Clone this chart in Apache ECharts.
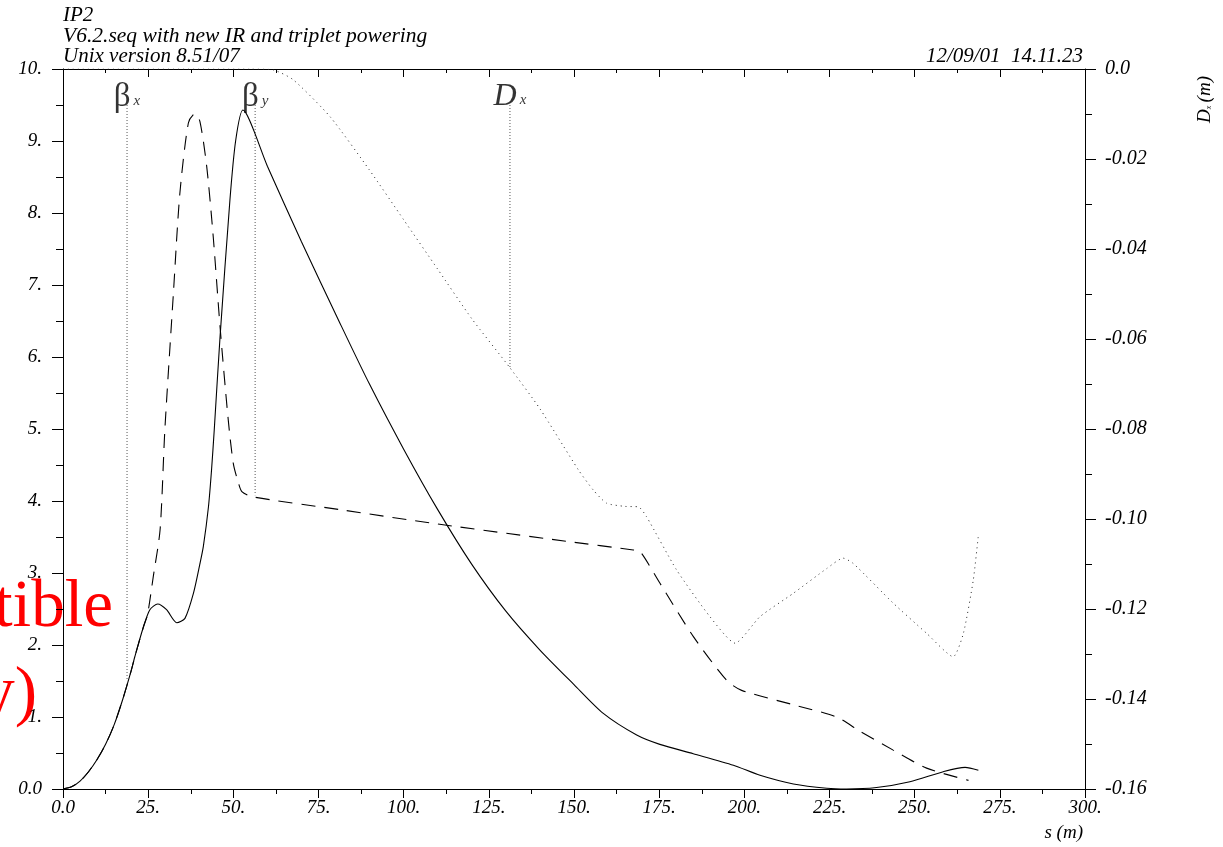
<!DOCTYPE html>
<html>
<head>
<meta charset="utf-8">
<script src="https://cdn.jsdelivr.net/npm/echarts@6/dist/echarts.min.js"></script>
<style>
html,body{margin:0;padding:0;background:#fff;}
#chart{width:1223px;height:847px;}
</style>
</head>
<body>
<div id="chart"></div>
<script>
// ---- data ----
const betaXS = [0,2.5,5,7.5,10,12.5,15,17.5,20,21.1,23.6,25.5,27.8,30.4,33.4,35.8,38.3,40.2,41.2,42.7,43.6,44.4,46.1,49.0,50.7,52.8,60,70,81.3,90,100,110,120,130,140,150,158.6,168.4,175.2,185,196.8,204.6,214.4,224.2,230,238.8,248.6,258.4,264.8,268.7];
const betaX  = [0,0.03,0.11,0.24,0.41,0.62,0.89,1.24,1.64,1.84,2.25,2.49,2.57,2.49,2.31,2.37,2.72,3.13,3.37,3.92,4.43,4.99,6.28,8.18,9.01,9.43,8.65,7.6,6.47,5.62,4.72,3.88,3.12,2.47,1.93,1.45,1.05,0.75,0.62,0.49,0.33,0.19,0.07,0.01,0.0,0.02,0.10,0.24,0.30,0.26];

const betaYS = [0,2.5,5,7.5,10,12.5,15,17.5,20,21.1,23.6,24.8,26.5,28.5,29.9,32.4,34.3,36.8,38.7,40.2,42.2,44.1,46.1,48.5,50.0,51.5,52.5,55.4,81.3,110,147.9,167.4,169.4,175.2,185,194.8,199.2,214.4,227.1,234,243.7,253.5,265.8];
const betaY  = [0,0.03,0.11,0.24,0.41,0.62,0.89,1.24,1.64,1.84,2.25,2.42,2.95,3.6,4.99,6.88,8.27,9.25,9.38,9.27,8.64,7.67,6.42,5.13,4.52,4.25,4.13,4.06,3.88,3.68,3.44,3.32,3.30,2.86,2.12,1.51,1.37,1.17,1.0,0.80,0.54,0.29,0.12];

const dispS = [0,55,61.7,67.6,78.4,90,100,110,120,131.2,140,151.3,155.7,159.6,165,168.9,171.3,180.1,189.9,197.3,204.6,214.4,224.2,229,232,243.7,253.5,261.3,264.3,267.2,268.7];
const dispX = [0,0,-0.0002,-0.0024,-0.0106,-0.0225,-0.0335,-0.0445,-0.0555,-0.0664,-0.0755,-0.0891,-0.0936,-0.0965,-0.0972,-0.0973,-0.0995,-0.1113,-0.1217,-0.1276,-0.1217,-0.1165,-0.111,-0.1087,-0.1099,-0.1187,-0.1254,-0.1306,-0.1254,-0.1136,-0.1036];

// curve-name markers: s position, top and bottom (in beta units)
const markerNames = ['βx', 'βy', 'Dx'];
const markerS     = [18.8, 56.4, 131.2];
const markerTop   = [9.5, 9.5, 9.5];
const markerBot   = [1.51, 4.08, 5.85];

const titleLines = ['IP2', 'V6.2.seq with new IR and triplet powering', 'Unix version 8.51/07'];
const dateText = '12/09/01  14.11.23';
const overlayLines = ['tible', 'y)'];

const FONT = 'Liberation Serif';
const zip = (a, b) => a.map((v, i) => [v, b[i]]);

const labelRich = {
  b: {fontFamily: FONT, fontSize: 33, color: '#000', verticalAlign: 'bottom'},
  d: {fontFamily: FONT, fontSize: 32, fontStyle: 'italic', color: '#000', verticalAlign: 'bottom'},
  s: {fontFamily: FONT, fontSize: 15, fontStyle: 'italic', color: '#000', verticalAlign: 'bottom', padding: [0, 0, 5, 3]}
};
function markerLabel(name) {
  const head = name.charAt(0), sub = name.slice(1);
  return (head === 'β' ? '{b|' : '{d|') + head + '}{s|' + sub + '}';
}

const markerSeries = markerNames.map((n, i) => ({
  type: 'line',
  xAxisIndex: 0, yAxisIndex: 0,
  symbol: 'none',
  silent: true,
  z: 1,
  lineStyle: {color: '#555', width: 1, type: [1, 2]},
  data: [[markerS[i], markerTop[i]], [markerS[i], markerBot[i]]]
}));
const markerLabels = {
  type: 'scatter', xAxisIndex: 0, yAxisIndex: 0, symbolSize: 0, silent: true, z: 4,
  data: markerNames.map((n, i) => ({value: [markerS[i], markerTop[i]], name: n})),
  label: {show: true, position: 'inside', offset: [0, -8], formatter: p => markerLabel(p.name), rich: labelRich}
};

const axisLabelStyle = {fontFamily: FONT, fontStyle: 'italic', fontSize: 19, color: '#000'};

const chart = echarts.init(document.getElementById('chart'), null, {renderer: 'canvas'});
chart.setOption({
  animation: false,
  backgroundColor: '#fff',
  grid: {left: 63, right: 138, top: 69, bottom: 58, containLabel: false},
  xAxis: [
    {
      type: 'value', min: 0, max: 300, interval: 25, position: 'bottom',
      axisLine: {show: true, onZero: false, lineStyle: {color: '#000', width: 1}},
      axisTick: {show: true, length: 9, lineStyle: {color: '#000'}},
      minorTick: {show: true, splitNumber: 2, length: 5, lineStyle: {color: '#000'}},
      splitLine: {show: false},
      axisLabel: Object.assign({margin: 9, formatter: v => v === 0 ? '0.0' : v + '.'}, axisLabelStyle)
    },
    {
      type: 'value', min: 0, max: 300, interval: 25, position: 'top',
      axisLine: {show: true, onZero: false, lineStyle: {color: '#000', width: 1}},
      axisTick: {show: true, inside: true, length: 8, lineStyle: {color: '#000'}},
      minorTick: {show: true, splitNumber: 2, length: 4, lineStyle: {color: '#000'}},
      splitLine: {show: false},
      axisLabel: {show: false}
    }
  ],
  yAxis: [
    {
      type: 'value', min: 0, max: 10, interval: 1, position: 'left',
      axisLine: {show: true, onZero: false, lineStyle: {color: '#000', width: 1}},
      axisTick: {show: true, length: 11, lineStyle: {color: '#000'}},
      minorTick: {show: true, splitNumber: 2, length: 7, lineStyle: {color: '#000'}},
      splitLine: {show: false},
      axisLabel: Object.assign({margin: 21, formatter: v => v === 0 ? '0.0' : v + '.'}, axisLabelStyle)
    },
    {
      type: 'value', min: -0.16, max: 0, interval: 0.02, position: 'right',
      axisLine: {show: true, onZero: false, lineStyle: {color: '#000', width: 1}},
      axisTick: {show: true, length: 11, lineStyle: {color: '#000'}},
      minorTick: {show: true, splitNumber: 2, length: 7, lineStyle: {color: '#000'}},
      splitLine: {show: false},
      axisLabel: Object.assign({margin: 20, formatter: v => Math.abs(v) < 1e-9 ? '0.0' : v.toFixed(2)}, axisLabelStyle, {fontSize: 20})
    }
  ],
  graphic: [
    {type: 'text', z: -10, style: {text: overlayLines[0], x: 113, y: 608, fill: '#ff0000', font: '67px "Liberation Serif"', align: 'right', verticalAlign: 'middle'}},
    {type: 'text', z: -10, style: {text: overlayLines[1], x: 37, y: 695, fill: '#ff0000', font: '67px "Liberation Serif"', align: 'right', verticalAlign: 'middle'}},
    {type: 'text', style: {text: titleLines[0], x: 63, y: 15, fill: '#000', font: 'italic 21px "Liberation Serif"', align: 'left', verticalAlign: 'middle'}},
    {type: 'text', style: {text: titleLines[1], x: 63, y: 36, fill: '#000', font: 'italic 21.5px "Liberation Serif"', align: 'left', verticalAlign: 'middle'}},
    {type: 'text', style: {text: titleLines[2], x: 63, y: 56, fill: '#000', font: 'italic 21px "Liberation Serif"', align: 'left', verticalAlign: 'middle'}},
    {type: 'text', style: {text: dateText, x: 1083, y: 56, fill: '#000', font: 'italic 21px "Liberation Serif"', align: 'right', verticalAlign: 'middle'}},
    {type: 'text', style: {text: 's (m)', x: 1083, y: 833, fill: '#000', font: 'italic 19px "Liberation Serif"', align: 'right', verticalAlign: 'middle'}},
    {type: 'text', rotation: Math.PI / 2, x: 1205, y: 123,
      style: {text: '{d|D}{s|x} {d|(m)}', align: 'left', verticalAlign: 'middle',
        rich: {d: {fontFamily: FONT, fontStyle: 'italic', fontSize: 19, color: '#000', verticalAlign: 'bottom'},
               s: {fontFamily: FONT, fontStyle: 'italic', fontSize: 8, color: '#000', verticalAlign: 'bottom', padding: [0, 0, 2, 0]}}}}
  ],
  series: [
    {
      name: 'βx', type: 'line', xAxisIndex: 0, yAxisIndex: 0, symbol: 'none', smooth: 0.25, z: 3,
      lineStyle: {color: '#000', width: 1.1, type: 'solid'},
      data: zip(betaXS, betaX)
    },
    {
      name: 'βy', type: 'line', xAxisIndex: 0, yAxisIndex: 0, symbol: 'none', smooth: 0.25, z: 3,
      lineStyle: {color: '#000', width: 1.1, type: [14, 9]},
      data: zip(betaYS, betaY)
    },
    {
      name: 'Dx', type: 'line', xAxisIndex: 0, yAxisIndex: 1, symbol: 'none', smooth: 0.2, z: 3,
      lineStyle: {color: '#222', width: 1, type: [1, 4]},
      data: zip(dispS, dispX)
    }
  ].concat(markerSeries, [markerLabels])
});
</script>
</body>
</html>
